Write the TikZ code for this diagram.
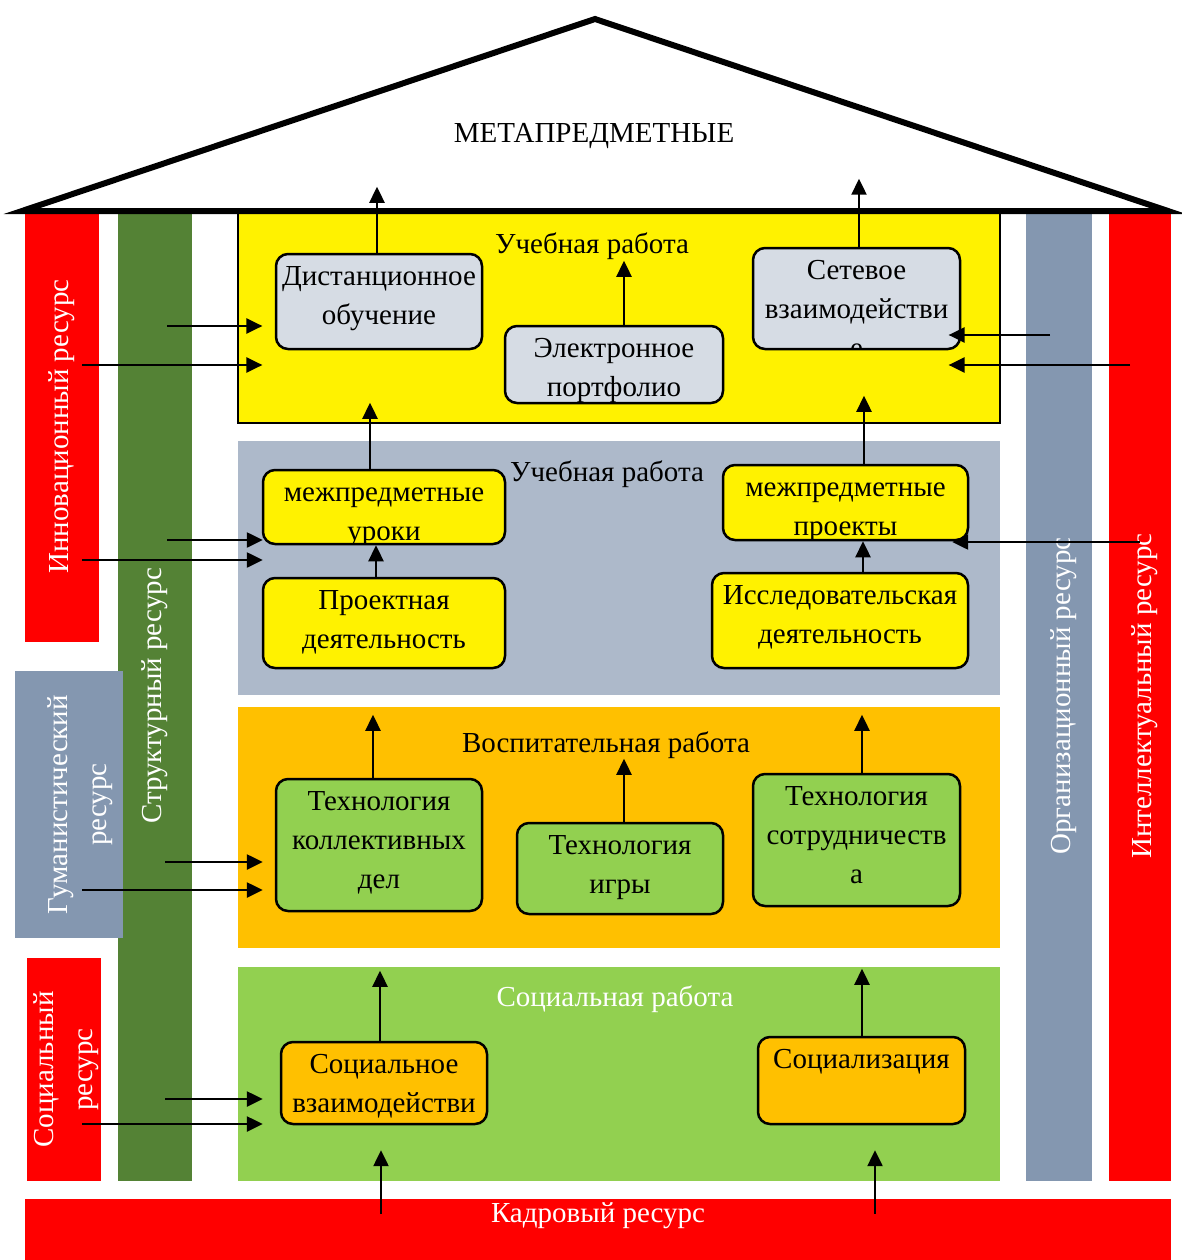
\documentclass[tikz,border=0pt]{standalone}
\usepackage{fontspec}
\setmainfont{Liberation Serif}
\usetikzlibrary{arrows.meta}
\definecolor{resred}{HTML}{FF0000}
\definecolor{strgreen}{HTML}{548235}
\definecolor{pillgray}{HTML}{8497B0}
\definecolor{blockgray}{HTML}{ADB9CA}
\definecolor{boxgray}{HTML}{D6DCE4}
\definecolor{vosporange}{HTML}{FFC000}
\definecolor{socgreen}{HTML}{92D050}

\begin{document}
\begin{tikzpicture}[x=1pt,y=-1pt,font=\fontsize{29}{39}\selectfont,
    pillar/.style={rotate=90,inner sep=0pt,text=white,align=center},
    block/.style={inner sep=0pt,minimum width=762},
    tbox/.style 2 args={draw,line width=2.5pt,rounded corners=12pt,inner sep=0pt,
        path picture={\node[draw=none,fill=none,align=center,inner sep=0pt,minimum width=0pt,minimum height=0pt,anchor=north] (#1)
            at ([yshift=-2.7pt]path picture bounding box.north) {\strut #2};}},
    arr/.style={line width=2.4pt,-{Triangle[length=16pt,width=15pt]}}]
    \useasboundingbox (0,0) rectangle (1182,1260);
    % resources
    \node[pillar,fill=resred,minimum width=431,minimum height=74] (innov) at (62,426.5) {Инновационный ресурс};
    \node[pillar,fill=strgreen,minimum width=970,minimum height=74] (struct) at (155,696) {Структурный ресурс};
    \node[pillar,fill=pillgray,minimum width=267,minimum height=108,text height=82pt] (guman) at (69,804.5) {Гуманистический\\ресурс};
    \node[pillar,fill=resred,minimum width=223,minimum height=74,text height=64pt] (socres) at (64,1069.5) {Социальный\\ресурс};
    \node[pillar,fill=pillgray,minimum width=970,minimum height=66,text height=30pt] (org) at (1059,696) {Организационный ресурс};
    \node[pillar,fill=resred,minimum width=970,minimum height=62,text height=30pt] (intel) at (1140,696) {Интеллектуальный ресурс};
    \node[inner sep=0pt,fill=resred,minimum width=1146,minimum height=63] (kadr) at (598,1230.5) {};
    \node[text=white] (kadrlbl) at (598,1216) {Кадровый ресурс};
    % floors
    \node[block,fill=yellow,draw,line width=1.2pt,minimum height=212] (uch1) at (619,317) {};
    \node[block,fill=blockgray,minimum height=254] (uch2) at (619,568) {};
    \node[block,fill=vosporange,minimum height=241] (vosp) at (619,827.5) {};
    \node[block,fill=socgreen,minimum height=214] (socr) at (619,1074) {};
    \node (uch1lbl) at (592,246) {Учебная работа};
    \node (uch2lbl) at (607,474) {Учебная работа};
    \node (vosplbl) at (606,745) {Воспитательная работа};
    \node[text=white] (socrlbl) at (615,999) {Социальная работа};
    % roof
    \draw[line width=6pt] (22,211) -- (595,19) -- (1168,211) -- cycle;
    \node (meta) at (594,136) {МЕТАПРЕДМЕТНЫЕ};
    % forms of work
    \node[tbox={disttext}{Дистанционное\\обучение},fill=boxgray,minimum width=206,minimum height=95] (dist) at (379,301.5) {};
    \node[tbox={eporttext}{Электронное\\портфолио},fill=boxgray,minimum width=218,minimum height=77] (eport) at (614,364.5) {};
    \node[tbox={nettext}{Сетевое\\взаимодействи\\е},fill=boxgray,minimum width=207,minimum height=101] (net) at (856.5,298.5) {};
    \node[tbox={iuroktext}{межпредметные\\уроки},fill=yellow,minimum width=242,minimum height=74] (iurok) at (384,507) {};
    \node[tbox={projtext}{Проектная\\деятельность},fill=yellow,minimum width=242,minimum height=90] (proj) at (384,623) {};
    \node[tbox={iprojtext}{межпредметные\\проекты},fill=yellow,minimum width=245,minimum height=75] (iproj) at (845.5,502.5) {};
    \node[tbox={issltext}{Исследовательская\\деятельность},fill=yellow,minimum width=256,minimum height=95] (issl) at (840,620.5) {};
    \node[tbox={tkdtext}{Технология\\коллективных\\дел},fill=socgreen,minimum width=206,minimum height=132] (tkd) at (379,845) {};
    \node[tbox={tigrtext}{Технология\\игры},fill=socgreen,minimum width=206,minimum height=91] (tigr) at (620,868.5) {};
    \node[tbox={tsotrtext}{Технология\\сотрудничеств\\а},fill=socgreen,minimum width=207,minimum height=132] (tsotr) at (856.5,840) {};
    \node[tbox={socvtext}{Социальное\\взаимодействи},fill=vosporange,minimum width=206,minimum height=82] (socv) at (384,1083) {};
    \node[tbox={socztext}{Социализация},fill=vosporange,minimum width=207,minimum height=87] (socz) at (861.5,1080.5) {};
    % arrows
    \foreach \n/\x/\l in {dist/377/66, net/859/68, eport/624/64, iurok/370/66, iproj/864/68,
        tkd/373/63, tigr/624/63, tsotr/862/58, socv/380/70, socz/862/67}
        \draw[arr] (\n.north -| \x,0) -- ++(0,-\l);
    \draw[arr] (proj.north -| 376,0) -- (iurok.south -| 376,0);
    \draw[arr] (issl.north -| 863,0) -- (iproj.south -| 863,0);
    \foreach \c/\s/\b/\y in {struct/12/uch1/326, innov/20/uch1/365, struct/12/uch2/540, innov/20/uch2/560,
        struct/10/vosp/862, guman/13/vosp/890, struct/10/socr/1099, socres/18/socr/1124}
        \draw[arr] ([xshift=\s]\c.center |- 0,\y) -- ([xshift=25]\b.west |- 0,\y);
    \foreach \c/\s/\b/\e/\y in {org/-9/uch1/-52/335, intel/-10/uch1/-52/365, intel/0/uch2/-48/542}
        \draw[arr] ([xshift=\s]\c.center |- 0,\y) -- ([xshift=\e]\b.east |- 0,\y);
    \foreach \x in {381,875}
        \draw[arr] ([yshift=-15]kadr.north -| \x,0) -- ([yshift=31]socr.south -| \x,0);
\end{tikzpicture}
\end{document}
